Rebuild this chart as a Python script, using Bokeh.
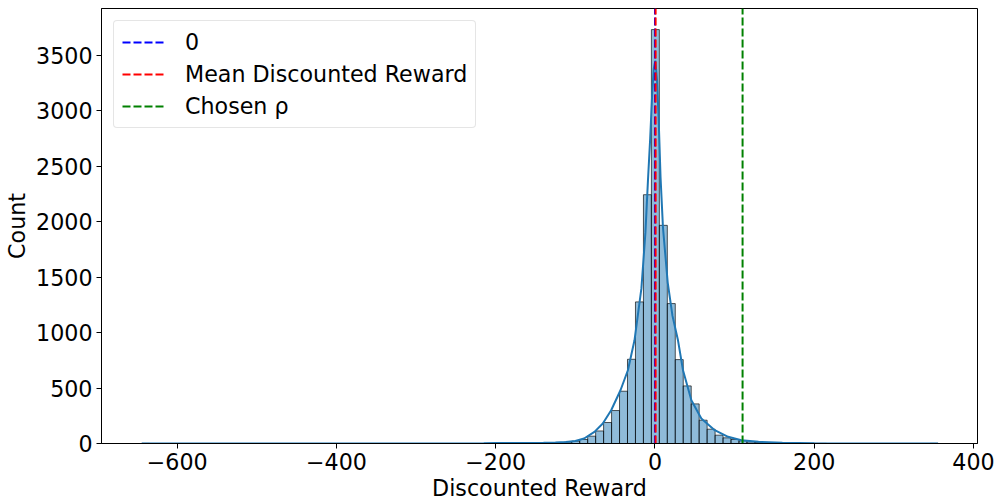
import numpy as np
from bokeh.plotting import figure
from bokeh.models import Range1d, Legend, LegendItem, FixedTicker
from bokeh.embed import file_html
from bokeh.resources import INLINE

# Histogram of discounted rewards: 100 equal-width bins
BIN_START = -644.5
BIN_WIDTH = 10.0
bin_counts = [
    1, 0, 0, 0, 0, 0, 0, 0, 0, 0,
    0, 0, 0, 0, 0, 0, 0, 0, 0, 0,
    0, 0, 0, 0, 0, 0, 0, 0, 0, 0,
    0, 0, 0, 0, 0, 0, 0, 0, 0, 0,
    0, 0, 0, 0, 1, 2, 1, 2, 2, 3,
    4, 5, 8, 12, 21, 36, 66, 113, 189, 297,
    471, 759, 1276, 2242, 3730, 1966, 1261, 756, 519, 357,
    210, 129, 75, 51, 36, 24, 14, 9, 6, 4,
    3, 2, 2, 1, 1, 1, 0, 0, 0, 0,
    0, 0, 0, 0, 0, 0, 0, 0, 0, 1,
]

# Kernel density estimate, scaled to counts
kde_x = [-644.5, -500, -400, -300, -250, -215, -200, -185, -170, -155, -140,
         -125, -112, -100, -89, -76, -65.5, -55, -43.3, -34, -25.7, -17,
         -12, -8.8, -6, -3.5, -1.5, 0.5, 2.5, 4.5, 7, 10, 16, 22, 28.9,
         35.2, 45.7, 58.2, 75, 91.8, 108.5, 130, 160, 200, 250, 300, 355.5]
kde_y = [0.2, 0.2, 0.3, 0.5, 1, 3, 4, 4, 4, 5, 7,
         10, 14, 22, 45, 105, 180, 300, 480, 660, 930, 1400,
         1900, 2371, 2750, 3150, 3380, 3450, 3280, 2950, 2400, 1950, 1450, 1150, 930,
         660, 390, 225, 120, 60, 30, 15, 7, 3, 1, 0.5, 0.2]

# Reference lines
ZERO = 0
MEAN_REWARD = 0.8
CHOSEN_RHO = 110

x_ticks = [-600, -400, -200, 0, 200, 400]
y_ticks = [0, 500, 1000, 1500, 2000, 2500, 3000, 3500]

X_LO, X_HI = -695, 405
Y_HI = 3920

FONT = "DejaVu Sans"
FS = "22.2px"

edges = BIN_START + BIN_WIDTH * np.arange(len(bin_counts) + 1)

p = figure(width=996, height=503, output_backend="svg", toolbar_location=None,
           x_range=Range1d(X_LO, X_HI), y_range=Range1d(0, Y_HI),
           min_border_left=101, min_border_right=19, min_border_top=8,
           min_border_bottom=60)
p.grid.visible = False
p.outline_line_color = "black"
p.outline_line_width = 1
p.background_fill_color = "white"

p.quad(left=edges[:-1], right=edges[1:], bottom=0, top=bin_counts,
       fill_color="#1f77b4", fill_alpha=0.5, line_color="black",
       line_alpha=0.65, line_width=1)

p.line(kde_x, kde_y, line_color="#1f77b4", line_width=2)

r_zero = p.segment(x0=[ZERO], y0=[0], x1=[ZERO], y1=[Y_HI],
                   line_color="blue", line_width=2, line_dash="8 3")
r_mean = p.segment(x0=[MEAN_REWARD], y0=[0], x1=[MEAN_REWARD], y1=[Y_HI],
                   line_color="red", line_width=2, line_dash="8 3")
r_rho = p.segment(x0=[CHOSEN_RHO], y0=[0], x1=[CHOSEN_RHO], y1=[Y_HI],
                  line_color="green", line_width=2, line_dash="8 3")

for ax in (p.xaxis[0], p.yaxis[0]):
    ax.major_label_text_font = FONT
    ax.major_label_text_font_size = FS
    ax.major_label_text_color = "black"
    ax.axis_label_text_font = FONT
    ax.axis_label_text_font_size = FS
    ax.axis_label_text_font_style = "normal"
    ax.axis_label_text_color = "black"
    ax.major_tick_out = 5
    ax.major_tick_in = 0
    ax.minor_tick_out = 0
    ax.minor_tick_in = 0
    ax.axis_line_color = "black"
    ax.major_tick_line_color = "black"
    ax.major_label_standoff = 4

p.xaxis.ticker = FixedTicker(ticks=x_ticks)
p.yaxis.ticker = FixedTicker(ticks=y_ticks)
p.xaxis.major_label_overrides = {t: (f"\u2212{abs(t)}" if t < 0 else str(t)) for t in x_ticks}
p.xaxis.axis_label = "Discounted Reward"
p.yaxis.axis_label = "Count"
p.xaxis.axis_label_standoff = 2
p.yaxis.axis_label_standoff = 3

legend = Legend(items=[
    LegendItem(label="0", renderers=[r_zero]),
    LegendItem(label="Mean Discounted Reward", renderers=[r_mean]),
    LegendItem(label="Chosen \u03c1", renderers=[r_rho]),
], location="top_left")
legend.margin = 12
legend.padding = 8
legend.spacing = 6
legend.glyph_width = 42
legend.glyph_height = 22
legend.label_height = 22
legend.label_standoff = 21
legend.label_text_font = FONT
legend.label_text_font_size = FS
legend.label_text_color = "black"
legend.border_line_color = "#cccccc"
legend.border_line_width = 1
legend.border_radius = 4
legend.background_fill_alpha = 0.8
p.add_layout(legend)

open("out.html", "w").write(file_html(p, INLINE))
